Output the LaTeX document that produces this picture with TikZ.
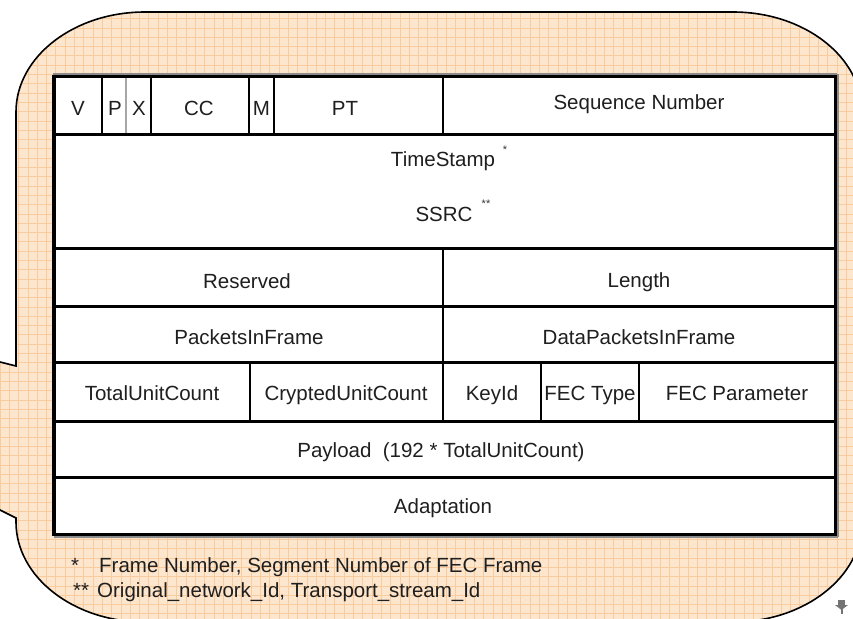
\documentclass[tikz,border=0pt]{standalone}
\usepackage{fontspec}
\setmainfont{Liberation Sans}
\definecolor{peach}{RGB}{253,230,206}
\definecolor{gridor}{RGB}{250,203,156}
\begin{document}
\begin{tikzpicture}[x=1pt,y=-1pt,
  lbl/.style={font=\fontsize{20.5}{24}\selectfont, text=black!88, inner sep=0pt, text height=14.7pt, text depth=0pt},
  sup/.style={font=\fontsize{11}{12}\selectfont, text=black!80, inner sep=0pt},
  hrule/.style={line width=3pt, black},
  vrule/.style={line width=2.6pt, black},
  shadowline/.style={line width=2pt, black!45},
  outline/.style={line width=1.6pt, black}]
\useasboundingbox (0,0) rectangle (853,618);
\clip (0,0) rectangle (853,618);
\newcommand\myoutline{(145,12) -- (733,12) .. controls (804.2,12) and (862,56.8) .. (862,112)
  -- (862,522) .. controls (862,577.2) and (804.2,622) .. (733,622)
  -- (145,622) .. controls (73.8,622) and (16,577.2) .. (16,522)
  -- (16,518) -- (-20,500) -- (-20,357) -- (16,366)
  -- (16,112) .. controls (16,56.8) and (73.8,12) .. (145,12) -- cycle}
% callout background
\fill[peach] \myoutline;
\begin{scope}
  \clip \myoutline;
  \draw[gridor, line width=0.7pt, step=9.3pt] (-30,0) grid (870,630);
\end{scope}
\draw[outline] \myoutline;
% table
\fill[white] (54,76) rectangle (835,534);
\draw[shadowline] (53,73.5) -- (837,73.5);
\draw[shadowline] (837.5,74) -- (837.5,537);
\draw[shadowline] (54,536.5) -- (838,536.5);
\draw[black!35, line width=2.5pt] (126,77) -- (126,133);
\draw[hrule] (54,76) rectangle (835,534);
\draw[line width=4pt] (54,74.5) -- (54,535.5);
\foreach \y in {134,248,306,362,421,477} \draw[hrule] (54,\y) -- (835,\y);
\foreach \x in {102,151,249,274,443} \draw[vrule] (\x,76) -- (\x,134);
\draw[vrule] (443,248) -- (443,362);
\foreach \x in {250,443,541,639} \draw[vrule] (\x,362) -- (\x,421);
% labels row 1
\node[lbl] (v) at (78,108) {V};
\node[lbl] (p) at (115,108) {P};
\node[lbl] (x) at (139,108) {X};
\node[lbl] (cc) at (199,108.5) {CC};
\node[lbl] (m) at (261.5,108) {M};
\node[lbl] (pt) at (345,108.5) {PT};
\node[lbl] (seq) at (639,102) {Sequence Number};
% row 2
\node[lbl] (ts) at (443,159) {TimeStamp};
\node[sup] (tsstar) at (505,150) {*};
\node[lbl] (ssrc) at (444,214) {SSRC};
\node[sup] (ssrcstar) at (486,204) {**};
% rows 3,4
\node[lbl] (res) at (247,281) {Reserved};
\node[lbl] (len) at (639,280) {Length};
\node[lbl] (pif) at (249,337.5) {PacketsInFrame};
\node[lbl] (dpif) at (639,337.5) {DataPacketsInFrame};
% row 5
\node[lbl] (tuc) at (152,393.5) {TotalUnitCount};
\node[lbl] (cuc) at (346,393.5) {CryptedUnitCount};
\node[lbl] (kid) at (492,393.5) {KeyId};
\node[lbl] (fect) at (590,393.5) {FEC Type};
\node[lbl] (fecp) at (737,393.5) {FEC Parameter};
% rows 6,7
\node[lbl] (pay) at (441,450) {Payload\ \ (192 * TotalUnitCount)};
\node[lbl] (adp) at (443,506) {Adaptation};
% footnotes
\node[lbl, anchor=west] (fn1s) at (71,565) {*};
\node[lbl, anchor=west] (fn1) at (99,565) {Frame Number, Segment Number of FEC Frame};
\node[lbl, anchor=west] (fn2s) at (73,590) {**};
\node[lbl, anchor=west] (fn2) at (97,590) {Original\_network\_Id, Transport\_stream\_Id};
% small pin mark
\fill[black!55] (838,600) rectangle (845,605);
\fill[black!55] (835,605) -- (848,605) -- (841.5,610) -- cycle;
\fill[black!55] (840.5,609) rectangle (842.5,614);
\end{tikzpicture}
\end{document}
